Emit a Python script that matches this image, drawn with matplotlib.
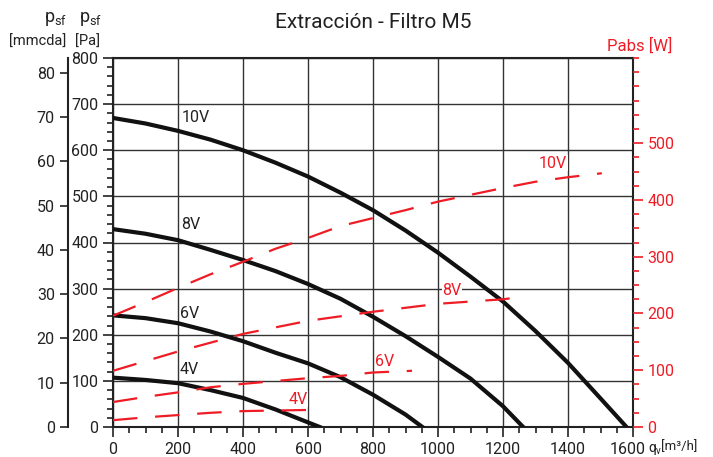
import matplotlib
matplotlib.use("Agg")
import matplotlib.pyplot as plt
import matplotlib.transforms as mtransforms
from matplotlib.ticker import MultipleLocator

plt.rcParams['font.family'] = ['Roboto', 'DejaVu Sans']

RED = '#ee1c25'
INK = '#222222'

# static pressure curves (Pa) per control voltage
q_10v = [0, 100, 200, 300, 400, 500, 600, 700, 800, 900, 1000, 1100, 1200, 1300, 1400, 1500, 1580]
p_10v = [670, 658, 642, 623, 600, 573, 543, 508, 470, 426, 378, 326, 272, 208, 139, 62, 0]
q_8v = [0, 100, 200, 300, 400, 500, 600, 700, 800, 900, 1000, 1100, 1200, 1262]
p_8v = [429, 419, 405, 384, 362, 338, 310, 278, 239, 197, 152, 105, 45, 0]
q_6v = [0, 100, 200, 300, 400, 500, 600, 700, 800, 900, 952]
p_6v = [242, 236, 225, 207, 186, 161, 138, 108, 70, 27, 0]
q_4v = [0, 100, 200, 300, 400, 500, 600, 636]
p_4v = [107, 102, 95, 80, 63, 38, 10, 0]

# absorbed power (W)
w_q_10v = [0, 100, 200, 300, 400, 500, 600, 700, 800, 900, 1000, 1100, 1200, 1300, 1400, 1504]
w_10v = [196, 220, 245, 269, 291, 314, 333, 354, 368, 382, 397, 409, 421, 432, 440, 447]
w_q_8v = [0, 200, 400, 600, 700, 800, 1000, 1200, 1227]
w_8v = [99, 133, 164, 187, 195, 203, 217, 225, 227]
w_q_6v = [0, 100, 200, 300, 400, 500, 600, 700, 800, 920]
w_6v = [44, 53, 61, 70, 76, 81, 86, 90, 96, 99]
w_q_4v = [0, 100, 200, 300, 400, 500, 596]
w_4v = [12, 17, 21, 25, 28, 29, 30]

x_ticks = [0, 200, 400, 600, 800, 1000, 1200, 1400, 1600]

curves = [("10V", q_10v, p_10v), ("8V", q_8v, p_8v), ("6V", q_6v, p_6v), ("4V", q_4v, p_4v)]
powers = [("10V", w_q_10v, w_10v), ("8V", w_q_8v, w_8v), ("6V", w_q_6v, w_6v), ("4V", w_q_4v, w_4v)]

fig = plt.figure(figsize=(7.13, 4.57), dpi=100)
ax = fig.add_axes([113/713, 1-427/457, 520/713, 369/457])

ax.set_xlim(0, 1600)
ax.set_ylim(0, 800)
ax.set_xticks(x_ticks)
ax.xaxis.set_minor_locator(MultipleLocator(50))
ax.yaxis.set_major_locator(MultipleLocator(100))
ax.yaxis.set_minor_locator(MultipleLocator(20))
ax.grid(True, which='major', color='#333333', lw=1)
ax.tick_params(which='major', direction='out', length=7, width=1.2, labelsize=11.5, colors=INK)
ax.tick_params(which='minor', direction='out', length=4, width=1.2, colors=INK)
for s in ax.spines.values():
    s.set_color(INK)
    s.set_linewidth(1.5)

# nudge the last x label left so the flow unit fits after it
last = ax.xaxis.get_major_ticks()[-1].label1
last.set_transform(last.get_transform() + mtransforms.ScaledTranslation(-4/72, 0, fig.dpi_scale_trans))

for name, q, p in curves:
    ax.plot(q, p, color='#111111', lw=3, solid_joinstyle='round', zorder=4)

# black labels
ax.text(210, 672, "10V", fontsize=11.5, color=INK, va='center')
ax.text(210, 440, "8V", fontsize=11.5, color=INK, va='center')
ax.text(205, 247, "6V", fontsize=11.5, color=INK, va='center')
ax.text(205, 124, "4V", fontsize=11.5, color=INK, va='center')

# power axis (right)
axw = ax.twinx()
axw.set_ylim(0, 650)
axw.yaxis.set_minor_locator(MultipleLocator(25))
axw.set_yticks(range(0, 600, 100))
axw.tick_params(which='major', direction='out', length=7, width=1.2, labelsize=11.5, colors=RED)
axw.tick_params(which='minor', direction='out', length=4, width=1.2, colors=RED)
for s in axw.spines.values():
    s.set_visible(False)

for name, q, w in powers:
    axw.plot(q, w, color=RED, lw=1.6, dashes=(11, 8), zorder=5)

lbl = dict(fontsize=11.5, color=RED, ha='center', va='center',
           bbox=dict(facecolor='white', edgecolor='none', pad=0.5), zorder=6)
axw.text(1354, 465, "10V", **lbl)
axw.text(1043, 241, "8V", **lbl)
axw.text(837, 116, "6V", **lbl)
axw.text(569, 49, "4V", **lbl)

# mmcda axis (outer left)
axm = ax.twinx()
axm.set_ylim(0, 83.3)
axm.yaxis.set_ticks_position('left')
axm.spines['left'].set_position(('outward', 32.4))
axm.spines['left'].set_bounds(0, 83.3)
axm.spines['left'].set_linewidth(1.5)
axm.spines['left'].set_color(INK)
for k in ('right', 'top', 'bottom'):
    axm.spines[k].set_visible(False)
axm.set_yticks(range(0, 90, 10))
axm.tick_params(direction='out', length=6, width=1.2, labelsize=11.5, colors=INK)

# headings
fig.text(373/713, 1-22/457, "Extracción - Filtro M5", fontsize=15, color=INK, ha='center', va='center')
fig.text(56/713, 1-19/457, r"p$_{\mathregular{sf}}$", fontsize=13, color=INK, ha='center', va='center')
fig.text(91/713, 1-19/457, r"p$_{\mathregular{sf}}$", fontsize=13, color=INK, ha='center', va='center')
fig.text(38/713, 1-42/457, "[mmcda]", fontsize=10.5, color=INK, ha='center', va='center')
fig.text(87/713, 1-42/457, "[Pa]", fontsize=10.5, color=INK, ha='center', va='center')
fig.text(672/713, 1-46/457, "Pabs [W]", fontsize=12, color=RED, ha='right', va='center')

# flow unit after the last x label, built from plain pieces
fig.text(648/713, 1-448/457, "q", fontsize=10, color=INK, ha='left', va='center')
fig.text(655.5/713, 1-451/457, "v", fontsize=7, color=INK, ha='left', va='center')
fig.text(661/713, 1-447/457, "[m³/h]", fontsize=9.5, color=INK, ha='left', va='center')

fig.savefig("out.png", dpi=100)
